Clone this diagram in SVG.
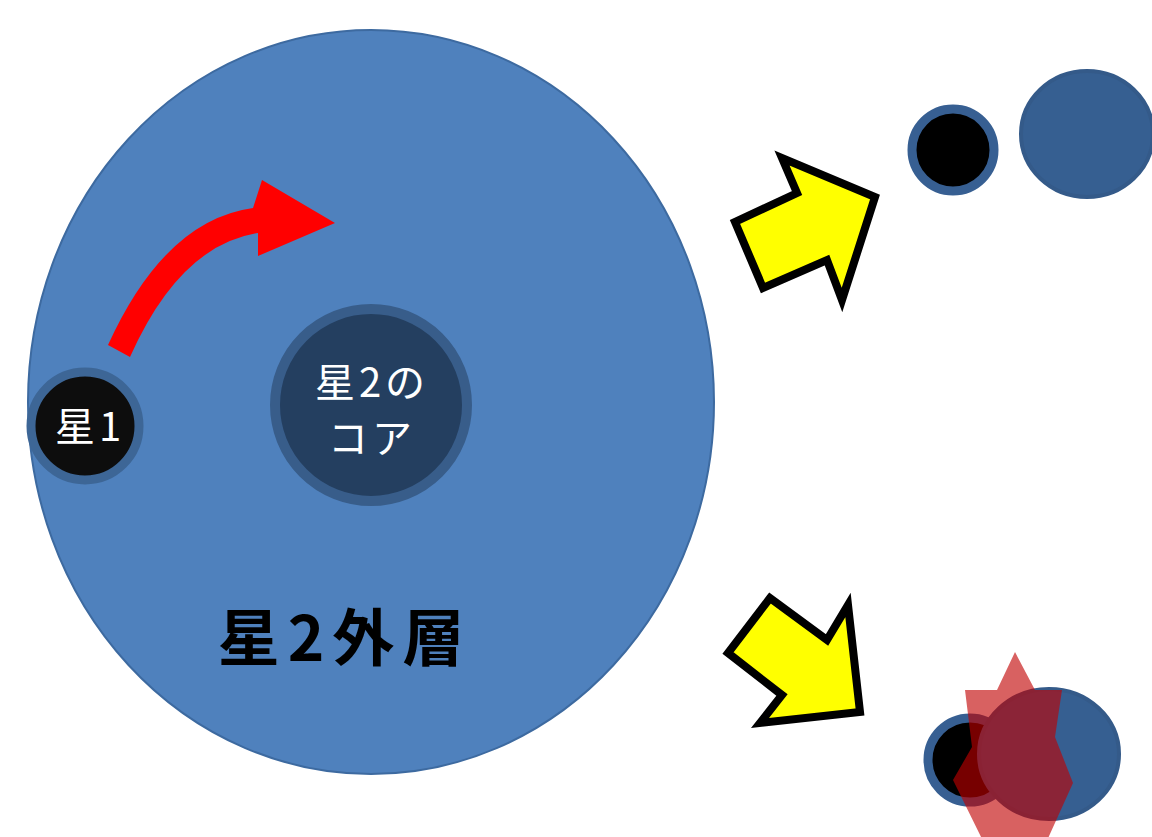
<svg xmlns="http://www.w3.org/2000/svg" width="1152" height="837" viewBox="0 0 1152 837">
  <style>
    .jp { font-family: "Noto Sans CJK JP", "Liberation Sans", sans-serif; }
    .label { fill: #ffffff; font-size: 40px; text-anchor: middle; letter-spacing: 4px; }
    .title { fill: #000000; font-size: 62px; font-weight: bold; text-anchor: middle; letter-spacing: 8px; }
    .bigArrow { fill: #ffff00; stroke: #000000; stroke-width: 8; stroke-linejoin: miter; }
    .blob { fill: #365f91; stroke: #345a89; stroke-width: 4; }
    .dot { fill: #000000; stroke: #375f92; stroke-width: 9; }
  </style>
  <rect width="1152" height="837" fill="#ffffff"/>

  <!-- star 2 envelope -->
  <g id="envelope">
    <ellipse cx="371" cy="402" rx="343" ry="372" fill="#4f81bd" stroke="#3d6aa0" stroke-width="2"/>
    <text class="jp title" x="345" y="661">星2外層</text>
  </g>

  <!-- star 2 core -->
  <g id="core">
    <circle cx="371" cy="405" r="96" fill="#243f60" stroke="#385d8a" stroke-width="10"/>
    <text class="jp label" x="372" y="397">星2の</text>
    <text class="jp label" x="372" y="453">コア</text>
  </g>

  <!-- star 1 -->
  <g id="star1">
    <circle cx="85" cy="426" r="54" fill="#0d0d0d" stroke="#3d6696" stroke-width="9"/>
    <text class="jp label" x="90" y="441">星1</text>
  </g>

  <!-- orbital motion -->
  <g id="orbit-arrow">
    <path d="M108,345 Q165,220 253,208 L262,180 L335,223 L258,256 L258,233 Q180,245 130,357 Z" fill="#ff0000"/>
  </g>

  <!-- outcome: separated pair -->
  <g id="outcome-pair">
    <circle class="dot" cx="953" cy="150" r="41"/>
    <ellipse class="blob" cx="1087" cy="134" rx="66" ry="63"/>
  </g>

  <!-- outcome: merger -->
  <g id="outcome-merger">
    <circle class="dot" cx="970" cy="760" r="42"/>
    <ellipse class="blob" cx="1049" cy="754" rx="70" ry="65"/>
    <polygon points="965,690 997,690 1015,652 1035,690 1062,690 1055,737 1073,783 1045,845 985,845 953,780 972,747" fill="#c00000" fill-opacity="0.62"/>
  </g>

  <!-- transitions -->
  <g id="connectors">
    <polygon class="bigArrow" points="735,222 763,288 827,260 842,300 875,197 782,158 797,193"/>
    <polygon class="bigArrow" points="770,598 728,653 782,695 760,723 860,712 848,605 827,640"/>
  </g>
</svg>
